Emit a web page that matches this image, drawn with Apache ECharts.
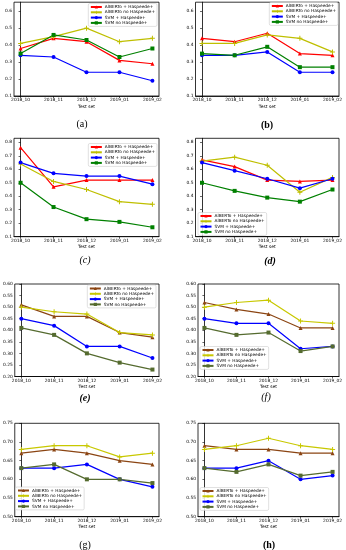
<!DOCTYPE html>
<html><head><meta charset="utf-8">
<script src="https://cdn.jsdelivr.net/npm/echarts@6/dist/echarts.min.js"></script>
<style>html,body{margin:0;padding:0;background:#fff}#c{width:346px;height:550px}</style>
</head><body><div id="c"></div>
<script>
const categories = ['2018_10','2018_11','2018_12','2019_01','2019_02'];
const seriesNames = ['AlBERTo + Haspeede+','AlBERTo no Haspeede+','SVM + Haspeede+','SVM no Haspeede+'];
const panelLabels = ['(a)','(b)','(c)','(d)','(e)','(f)','(g)','(h)'];
const xName = 'Test set';

// (a)
const aAlbPlus = [0.38, 0.44, 0.42, 0.31, 0.29];
const aAlbNo   = [0.41, 0.45, 0.50, 0.42, 0.44];
const aSvmPlus = [0.34, 0.33, 0.24, 0.24, 0.19];
const aSvmNo   = [0.35, 0.46, 0.43, 0.33, 0.38];
// (b)
const bAlbPlus = [0.44, 0.42, 0.47, 0.35, 0.34];
const bAlbNo   = [0.41, 0.41, 0.46, 0.44, 0.36];
const bSvmPlus = [0.34, 0.34, 0.36, 0.24, 0.24];
const bSvmNo   = [0.35, 0.34, 0.39, 0.27, 0.27];
// (c)
const cAlbPlus = [0.76, 0.47, 0.52, 0.52, 0.52];
const cAlbNo   = [0.64, 0.51, 0.45, 0.36, 0.34];
const cSvmPlus = [0.65, 0.57, 0.55, 0.55, 0.49];
const cSvmNo   = [0.50, 0.32, 0.23, 0.21, 0.17];
// (d)
const dAlbPlus = [0.67, 0.62, 0.52, 0.51, 0.52];
const dAlbNo   = [0.66, 0.69, 0.63, 0.43, 0.54];
const dSvmPlus = [0.65, 0.59, 0.53, 0.46, 0.53];
const dSvmNo   = [0.50, 0.44, 0.39, 0.36, 0.45];
// (e)
const eAlbPlus = [0.51, 0.46, 0.46, 0.39, 0.37];
const eAlbNo   = [0.50, 0.48, 0.47, 0.39, 0.38];
const eSvmPlus = [0.45, 0.42, 0.33, 0.33, 0.28];
const eSvmNo   = [0.41, 0.38, 0.30, 0.26, 0.23];
// (f)
const fAlbPlus = [0.52, 0.49, 0.47, 0.41, 0.41];
const fAlbNo   = [0.50, 0.52, 0.53, 0.44, 0.43];
const fSvmPlus = [0.45, 0.43, 0.43, 0.32, 0.33];
const fSvmNo   = [0.41, 0.38, 0.39, 0.31, 0.33];
// (g)
const gAlbPlus = [0.67, 0.68, 0.67, 0.65, 0.64];
const gAlbNo   = [0.68, 0.69, 0.69, 0.66, 0.67];
const gSvmPlus = [0.63, 0.63, 0.64, 0.60, 0.58];
const gSvmNo   = [0.63, 0.64, 0.60, 0.60, 0.59];
// (h)
const hAlbPlus = [0.69, 0.68, 0.68, 0.67, 0.67];
const hAlbNo   = [0.68, 0.69, 0.71, 0.69, 0.68];
const hSvmPlus = [0.63, 0.63, 0.65, 0.60, 0.61];
const hSvmNo   = [0.63, 0.62, 0.64, 0.61, 0.62];

// y tick labels
const yTicksAB = [0.1, 0.2, 0.3, 0.4, 0.5, 0.6];
const yTicksCD = [0.1, 0.2, 0.3, 0.4, 0.5, 0.6, 0.7, 0.8];
const yTicksEF = [0.20, 0.25, 0.30, 0.35, 0.40, 0.45, 0.50, 0.55, 0.60];
const yTicksGH = [0.50, 0.55, 0.60, 0.65, 0.70, 0.75];

const panelData = [
  [aAlbPlus, aAlbNo, aSvmPlus, aSvmNo],
  [bAlbPlus, bAlbNo, bSvmPlus, bSvmNo],
  [cAlbPlus, cAlbNo, cSvmPlus, cSvmNo],
  [dAlbPlus, dAlbNo, dSvmPlus, dSvmNo],
  [eAlbPlus, eAlbNo, eSvmPlus, eSvmNo],
  [fAlbPlus, fAlbNo, fSvmPlus, fSvmNo],
  [gAlbPlus, gAlbNo, gSvmPlus, gSvmNo],
  [hAlbPlus, hAlbNo, hSvmPlus, hSvmNo]
];
const panelTicks = [yTicksAB, yTicksAB, yTicksCD, yTicksCD, yTicksEF, yTicksEF, yTicksGH, yTicksGH];

// layout / style
const colorsTop = ['#ff0000', '#bfbf00', '#0000ff', '#008000'];
const colorsBot = ['#8b4513', '#c8c800', '#0000ff', '#556b2f'];
const plusPath = 'path://M2,0H3V2H5V3H3V5H2V3H0V2H2Z';
const symbols = ['triangle', plusPath, 'circle', 'rect'];

const layouts = [
  {l:14, r:159, t:2.2, b:96, min:0.1, max:0.653, dec:1, lg:{right:189, top:3.5}, lab:[82,124, 'normal','normal']},
  {l:195.5, r:339, t:2.2, b:96, min:0.1, max:0.653, dec:1, lg:{right:8, top:2.5}, lab:[267,125,'normal','bold']},
  {l:14, r:159, t:138.3, b:236.7, min:0.1, max:0.83, dec:1, lg:{right:189, top:143.5}, lab:[85,260,'italic','normal']},
  {l:195.5, r:339, t:138.3, b:236.7, min:0.1, max:0.83, dec:1, lg:{left:198, top:212.5}, lab:[270,261,'italic','bold']},
  {l:14.5, r:159, t:284, b:376.5, min:0.2, max:0.6, dec:2, lg:{right:190, top:285}, lab:[85,398,'italic','bold']},
  {l:198, r:339, t:284, b:376.5, min:0.2, max:0.6, dec:2, lg:{left:200, top:346.5}, lab:[266,397,'italic','normal']},
  {l:14.5, r:159, t:423.3, b:516.7, min:0.5, max:0.75, dec:2, lg:{left:15.5, top:487}, lab:[85,545,'normal','normal']},
  {l:198, r:339, t:423.3, b:516.7, min:0.5, max:0.75, dec:2, lg:{left:200, top:487.5}, lab:[269,545,'normal','bold']}
];

const grid = [], xAxis = [], yAxis = [], series = [], legend = [], graphic = [];
const fs = 4.4;
const lfs = 4.3;
layouts.forEach((L, i) => {
  grid.push({left:L.l, top:L.t, width:L.r-L.l, height:L.b-L.t, show:true, borderColor:'#000', borderWidth:0.8, backgroundColor:'transparent'});
  xAxis.push({
    type:'value', gridIndex:i, min:-0.2, max:4.2,
    name:xName, nameLocation:'middle', nameGap:8.5,
    nameTextStyle:{fontSize:fs, color:'#000', fontFamily:'DejaVu Sans'},
    axisLine:{show:true, lineStyle:{color:'#000', width:0.8}},
    axisTick:{show:true, length:2, lineStyle:{color:'#000', width:0.6}, customValues:[0,1,2,3,4]},
    axisLabel:{show:true, fontSize:fs, color:'#000', margin:2, fontFamily:'DejaVu Sans', customValues:[0,1,2,3,4], formatter:v => categories[Math.round(v)]},
    splitLine:{show:false}
  });
  yAxis.push({
    type:'value', gridIndex:i, min:L.min, max:L.max,
    axisLine:{show:true, lineStyle:{color:'#000', width:0.8}},
    axisTick:{show:true, length:2, lineStyle:{color:'#000', width:0.6}, customValues:panelTicks[i]},
    axisLabel:{show:true, fontSize:fs, color:'#000', margin:2, fontFamily:'DejaVu Sans', customValues:panelTicks[i], formatter:v => v.toFixed(L.dec)},
    splitLine:{show:false}
  });
  const cols = i < 4 ? colorsTop : colorsBot;
  const names = [];
  panelData[i].forEach((vals, k) => {
    const nm = seriesNames[k] + '\u200b'.repeat(i);
    names.push(nm);
    series.push({
      type:'line', name:nm, xAxisIndex:i, yAxisIndex:i,
      data: vals.map((v, j) => [j, v]),
      symbol: symbols[k], symbolSize: k === 1 ? 5 : 4,
      showAllSymbol:true,
      lineStyle:{color:cols[k], width:1.2},
      itemStyle:{color:cols[k], borderWidth:0},
      animation:false, silent:true
    });
  });
  const lg = Object.assign({
    data:names, orient:'vertical', 
    itemWidth:11, itemHeight:4, itemGap:1.3, padding:[1.5,2,1.5,1.5],
    borderColor:'#cccccc', borderWidth:0.6, borderRadius:1.5,
    backgroundColor:'rgba(255,255,255,0.85)',
    textStyle:{fontSize:lfs, color:'#000', fontFamily:'DejaVu Sans', padding:[0,0,0,-2]},
    formatter: n => n.replace(/\u200b/g, ''),
    selectedMode:false
  }, L.lg);
  legend.push(lg);
  graphic.push({
    type:'text', x:L.lab[0], y:L.lab[1],
    style:{text:panelLabels[i], fill:'#000', font:`${L.lab[2]} ${L.lab[3]} 10px "Liberation Serif"`, textAlign:'center', textVerticalAlign:'middle'}
  });
});

const chart = echarts.init(document.getElementById('c'), null, {renderer:'canvas'});
chart.setOption({animation:false, grid, xAxis, yAxis, series, legend, graphic});
</script></body></html>
